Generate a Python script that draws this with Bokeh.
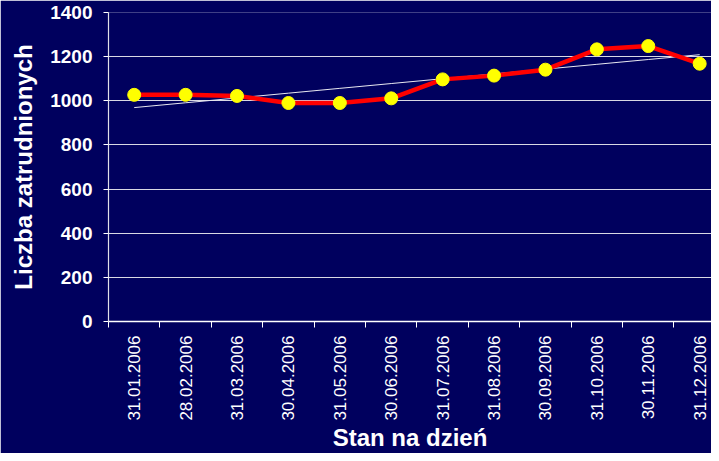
import math
import numpy as np
from bokeh.plotting import figure
from bokeh.models import Range1d, FixedTicker, ColumnDataSource
from bokeh.embed import file_html
from bokeh.resources import INLINE

# ---- data ----
dates = ["31.01.2006", "28.02.2006", "31.03.2006", "30.04.2006", "31.05.2006", "30.06.2006",
         "31.07.2006", "31.08.2006", "30.09.2006", "31.10.2006", "30.11.2006", "31.12.2006"]
employees = [1027, 1027, 1022, 990, 990, 1011, 1097, 1114, 1141, 1233, 1248, 1168]
y_ticks = [0, 200, 400, 600, 800, 1000, 1200, 1400]

x_idx = list(range(len(dates)))
slope, intercept = np.polyfit(x_idx, employees, 1)
trend = [slope * i + intercept for i in x_idx]

BG = "#00005E"
FONT = "Liberation Sans"

p = figure(width=711, height=453, output_backend="svg", toolbar_location=None,
           x_range=Range1d(-0.5, 11.23), y_range=Range1d(0, 1400),
           min_border_left=108, min_border_right=0, min_border_top=12, min_border_bottom=132)
p.background_fill_color = BG
p.border_fill_color = BG
p.outline_line_color = None

src = ColumnDataSource(dict(x=x_idx, y=employees, t=trend))
p.line("x", "t", source=src, line_color="#E8E8F0", line_width=1)
p.line("x", "y", source=src, line_color="#FF0000", line_width=4.5)
p.scatter("x", "y", source=src, size=13, fill_color="#FFFF00", line_color="#FFFF00")

# grid
p.xgrid.grid_line_color = None
p.ygrid.grid_line_color = "#D8D8E4"
p.ygrid.grid_line_width = 1.2
p.yaxis.ticker = FixedTicker(ticks=y_ticks)

# x axis
xa = p.xaxis[0]
xa.ticker = FixedTicker(ticks=x_idx, minor_ticks=[i - 0.5 for i in range(len(dates) + 1)])
xa.major_label_overrides = {i: d for i, d in enumerate(dates)}
xa.major_label_orientation = math.pi / 2
xa.major_tick_out = 0
xa.major_tick_in = 0
xa.minor_tick_out = 6
xa.minor_tick_in = 0
xa.minor_tick_line_color = "white"
xa.axis_line_color = "white"
xa.axis_line_width = 1.5
xa.major_label_text_color = "white"
xa.major_label_text_font = FONT
xa.major_label_text_font_size = "17px"
xa.major_label_standoff = 8
xa.axis_label = "Stan na dzień"
xa.axis_label_text_color = "white"
xa.axis_label_text_font = FONT
xa.axis_label_text_font_style = "bold"
xa.axis_label_text_font_size = "24px"
xa.axis_label_standoff = 0

# y axis
ya = p.yaxis[0]
ya.major_tick_out = 5
ya.major_tick_in = 0
ya.minor_tick_line_color = None
ya.major_tick_line_color = "white"
ya.axis_line_color = "#E0E0E8"
ya.axis_line_width = 1.2
ya.major_label_text_color = "white"
ya.major_label_text_font = FONT
ya.major_label_text_font_style = "bold"
ya.major_label_text_font_size = "19px"
ya.major_label_standoff = 11
ya.axis_label = "Liczba zatrudnionych"
ya.axis_label_text_color = "white"
ya.axis_label_text_font = FONT
ya.axis_label_text_font_style = "bold"
ya.axis_label_text_font_size = "24px"
ya.axis_label_standoff = 10

open("out.html", "w").write(file_html(p, INLINE))
